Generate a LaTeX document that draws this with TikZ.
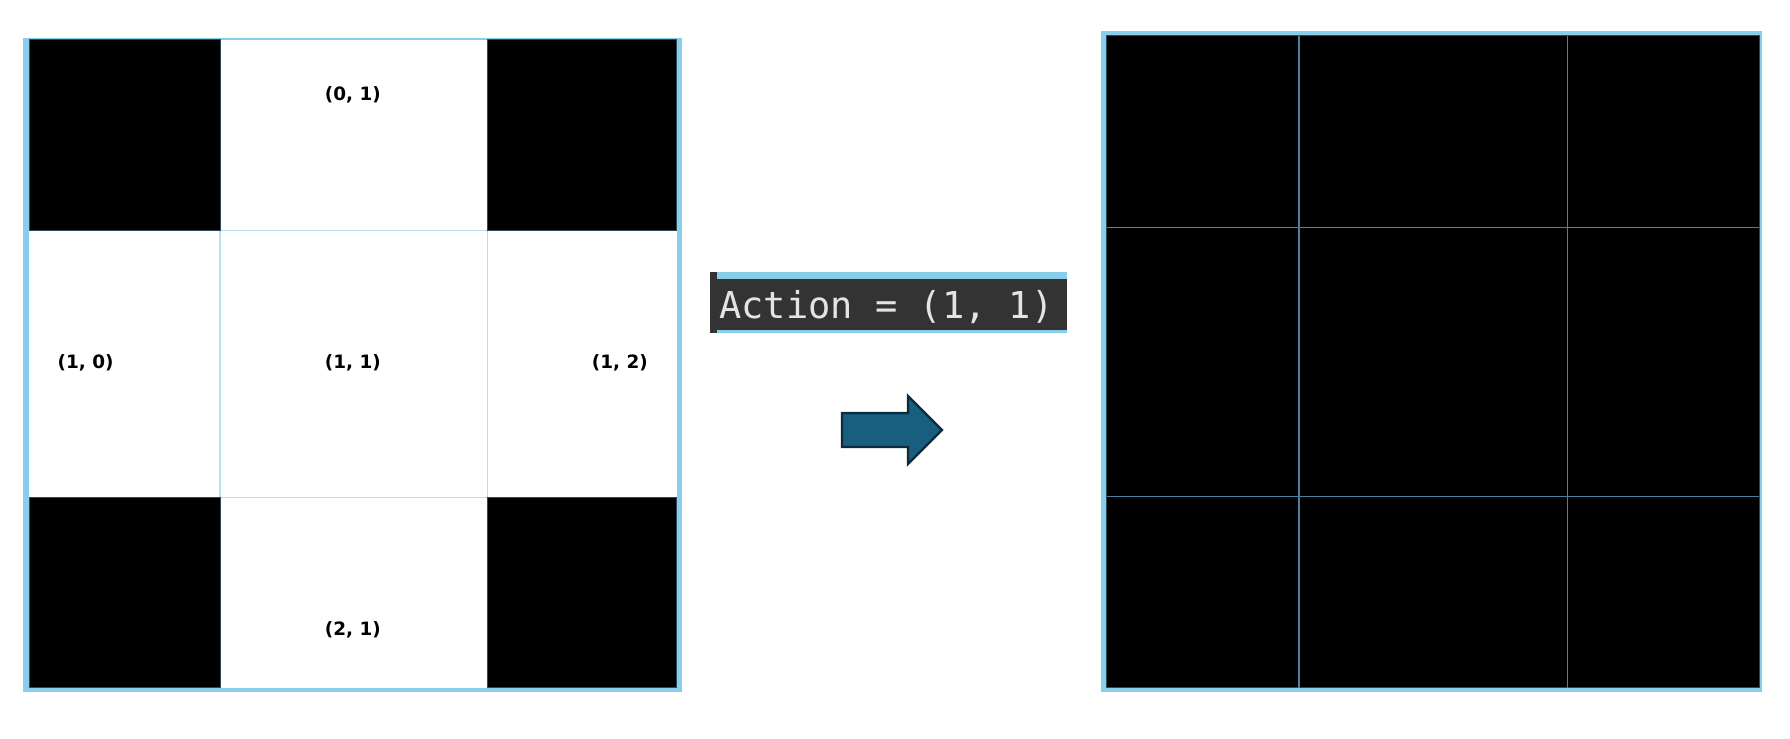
\documentclass[tikz,border=0pt]{standalone}
\usepackage{fontspec}
\setmainfont{DejaVu Sans}
\setmonofont{DejaVu Sans Mono}
\usetikzlibrary{positioning}

\definecolor{frameblue}{HTML}{87CEEB}
\definecolor{gridblue}{HTML}{B8E2F3}
\definecolor{darkgrid}{HTML}{4C80A0}
\definecolor{celledge}{HTML}{2E4A5A}
\definecolor{consolebg}{HTML}{333333}
\definecolor{consoletxt}{HTML}{E4E4E4}
\definecolor{arrowfill}{HTML}{175E7F}
\definecolor{arrowedge}{HTML}{0D2B3B}

\begin{document}
\begin{tikzpicture}[x=0.5pt, y=-0.5pt,
        blackcell/.style={fill=black, draw=celledge, line width=0.3pt},
        gridline/.style={draw=gridblue, line width=0.7pt},
        darkline/.style={draw=darkgrid, line width=0.6pt},
        coordlabel/.style={font=\fontsize{9.2}{11}\selectfont\bfseries, inner sep=0pt},
        actiontext/.style={font=\ttfamily\fontsize{18.5}{22}\selectfont, text=consoletxt, inner sep=0pt, anchor=base west},
        bigarrow/.style={fill=arrowfill, draw=arrowedge, line width=1.1pt, line join=miter}
    ]
        \useasboundingbox (0,0) rectangle (1790,739);

        % --- LEFT GRID (state) ---
        \fill[frameblue] (23,38) rectangle (681.7,691.7);
        \fill[white] (29,39.7) rectangle (676.7,687.7);
        \foreach \x in {220,487.5}
            \draw[gridline] (\x,39.7) -- (\x,687.7);
        \foreach \y in {230.3,497.7}
            \draw[gridline] (29,\y) -- (676.7,\y);
        \filldraw[blackcell] (29,39.7) rectangle (220,230.3);
        \filldraw[blackcell] (487.5,39.7) rectangle (676.7,230.3);
        \filldraw[blackcell] (29,497.7) rectangle (220,687.7);
        \filldraw[blackcell] (487.5,497.7) rectangle (676.7,687.7);

        \node[coordlabel] (c01) at (352.8,94.8) {(0, 1)};
        \node[coordlabel] (c10) at (85.6,363) {(1, 0)};
        \node[coordlabel] (c11) at (352.8,363) {(1, 1)};
        \node[coordlabel] (c12) at (619.9,363) {(1, 2)};
        \node[coordlabel] (c21) at (352.8,630.2) {(2, 1)};

        % --- ACTION ---
        \fill[consolebg] (710,271.7) rectangle (717,333);
        \fill[frameblue] (717,271.7) rectangle (1066.7,279);
        \fill[consolebg] (717,279) rectangle (1066.7,330);
        \fill[frameblue] (717,330) rectangle (1066.7,333);
        \node[actiontext] (action) at (719,318) {Action = (1, 1)};

        \draw[bigarrow] (842,413) -- (908,413) -- (908,396) -- (942,430)
            -- (908,464) -- (908,447) -- (842,447) -- cycle;

        % --- RIGHT GRID (next state) ---
        \fill[frameblue] (1101,31) rectangle (1762.3,691.7);
        \filldraw[blackcell] (1106.7,35.7) rectangle (1759.3,687.7);
        \foreach \x in {1299,1567.4}
            \draw[darkline] (\x,35.7) -- (\x,687.7);
        \foreach \y in {227.2,496.6}
            \draw[darkline] (1106.7,\y) -- (1759.3,\y);

    \end{tikzpicture}
\end{document}
